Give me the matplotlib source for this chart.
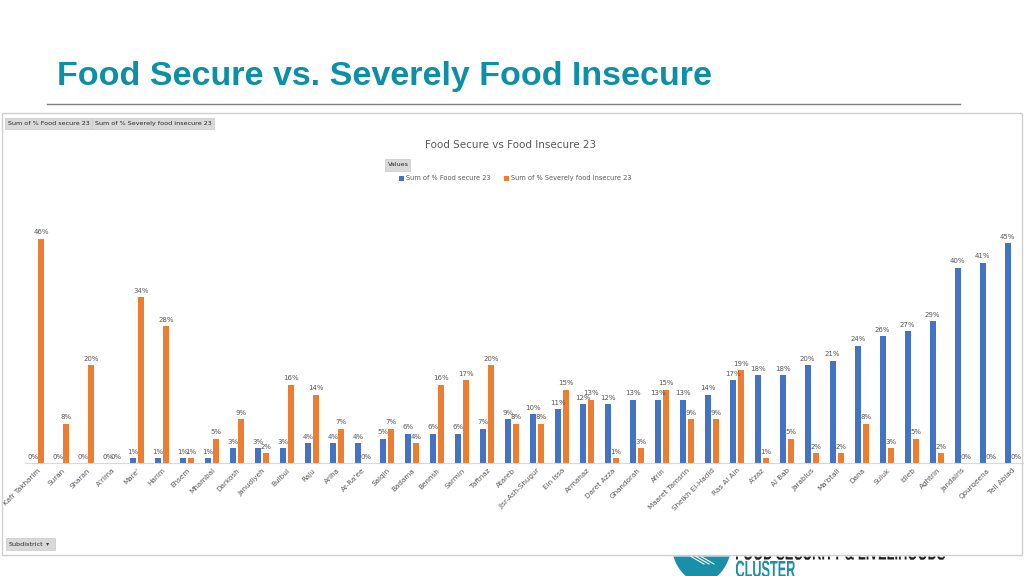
import matplotlib
matplotlib.use("Agg")
import matplotlib.pyplot as plt
from matplotlib.patches import Rectangle, PathPatch, Polygon
from matplotlib.path import Path
from matplotlib.textpath import TextPath
from matplotlib.font_manager import FontProperties
from matplotlib.transforms import Affine2D, IdentityTransform
import numpy as np

subdistricts = ["Kafr Takharim", "Suran", "Sharan", "A'rima", "Mare'", "Harim", "Ehsem",
                "Mhambal", "Darkosh", "Janudiyeh", "Bulbul", "Raju", "Ariha", "Ar-Ra'ee",
                "Salqin", "Badama", "Bennsh", "Sarmin", "Taftnaz", "Atareb", "Jisr-Ash-Shugur",
                "Ein Issa", "Armanaz", "Daret Azza", "Ghandorah", "Afrin", "Maaret Tamsrin",
                "Sheikh El-Hadid", "Ras Al Ain", "A'zaz", "Al Bab", "Jarablus", "Ma'btali",
                "Dana", "Suluk", "Idleb", "Aghtrin", "Jandairis", "Qourqeena", "Tell Abiad"]
food_secure = [0, 0, 0, 0, 1, 1, 1, 1, 3, 3, 3, 4, 4, 4, 5, 6, 6, 6, 7, 9, 10, 11, 12, 12,
               13, 13, 13, 14, 17, 18, 18, 20, 21, 24, 26, 27, 29, 40, 41, 45]
severely_insecure = [46, 8, 20, 0, 34, 28, 1, 5, 9, 2, 16, 14, 7, 0, 7, 4, 16, 17, 20, 8, 8,
                     15, 13, 1, 3, 15, 9, 9, 19, 1, 5, 2, 2, 8, 3, 5, 2, 0, 0, 0]

BLUE = "#4472C4"
ORANGE = "#ED7D31"
TEAL = "#0E8FA8"
LOGO = "#1A8FA8"
GREY = "#595959"

W, H = 1024, 576
FRAME_BOTTOM = 556.5
fig = plt.figure(figsize=(W / 100, H / 100), dpi=100)
fig.patch.set_facecolor("white")

def fx(px):
    return px / W

def fy(py):
    return 1 - py / H

def fitted_text(s, x0, x1, y_top, y_base, color):
    """Text path stretched to a box (pixel coords), cut at the chart frame's bottom edge."""
    fp = FontProperties(family="Liberation Sans", weight="bold")
    tp = TextPath((0, 0), s, size=10, prop=fp)
    ext = tp.get_extents()
    cap = TextPath((0, 0), "H", size=10, prop=fp).get_extents()
    sx = (x1 - x0) / ext.width
    sy = (y_base - y_top) / cap.height
    tr = Affine2D().translate(-ext.x0, 0).scale(sx, sy).translate(x0, H - y_base)
    p = tr.transform_path(tp).interpolated(8)
    verts = p.vertices.copy()
    verts[:, 1] = np.minimum(verts[:, 1], H - FRAME_BOTTOM)
    fig.add_artist(PathPatch(Path(verts, p.codes), transform=IdentityTransform(),
                             facecolor=color, edgecolor="none"))

# Header
fig.text(fx(57), fy(85), "Food Secure vs. Severely Food Insecure", color=TEAL,
         fontsize=24.5, fontweight="bold", family="Liberation Sans", va="baseline", ha="left")
fig.add_artist(plt.Line2D([fx(47), fx(960)], [fy(103.5), fy(103.5)], color="#7f7f7f", lw=1))

# Logo bowl (only the part below the chart frame is visible)
t = np.linspace(0, np.pi, 60)
cx, cy, rx, ry = 701.5, 540.0, 30.5, 42.0
bx = cx - rx * np.cos(t)
by = np.maximum(cy + ry * np.sin(t), FRAME_BOTTOM)
fig.add_artist(Polygon(np.column_stack([fx(bx), fy(by)]), closed=True,
                       transform=fig.transFigure, facecolor=LOGO, edgecolor="none"))
for dx in (-12, -7, -2):
    fig.add_artist(plt.Line2D([fx(703 + dx), fx(716 + dx)], [fy(FRAME_BOTTOM), fy(564)],
                              color="white", lw=0.8))
fitted_text("FOOD SECURITY & LIVELIHOODS", 736, 945, 545, 559.5, "#1f1f1f")
fitted_text("CLUSTER", 736, 795, 561, 577, LOGO)

# Chart frame
fig.add_artist(Rectangle((fx(1.5), fy(555)), fx(1020), 442 / H, transform=fig.transFigure,
                         facecolor="none", edgecolor="#d0d0d0", lw=1))

# Axes
ax = fig.add_axes([fx(24.5), fy(463), fx(1000), 244 / H])
x = np.arange(len(subdistricts))
bw = 0.25
off = 0.17
b1 = ax.bar(x - off, food_secure, bw, color=BLUE, label="Sum of % Food secure 23")
b2 = ax.bar(x + off, severely_insecure, bw, color=ORANGE, label="Sum of % Severely food insecure 23")
for bars, vals in ((b1, food_secure), (b2, severely_insecure)):
    for rect, v in zip(bars, vals):
        ax.annotate(f"{v}%", (rect.get_x() + rect.get_width() / 2, v), xytext=(0, 2.5),
                    textcoords="offset points", ha="center", va="bottom",
                    fontsize=5, color=GREY)
ax.set_xlim(-0.5, len(subdistricts) - 0.5)
ax.set_ylim(0, 50)
ax.set_yticks([])
ax.set_xticks(x)
ax.set_xticklabels(subdistricts, rotation=45, ha="right", rotation_mode="anchor",
                   fontsize=5.2, color=GREY)
ax.tick_params(axis="x", length=0, pad=3)
for s in ("top", "right", "left"):
    ax.spines[s].set_visible(False)
ax.spines["bottom"].set_color("#d9d9d9")
ax.patch.set_alpha(0)

# Chart title
fig.text(fx(511), fy(145), "Food Secure vs Food Insecure 23", ha="center", va="center",
         fontsize=7.5, color=GREY)

# Buttons
def button(x0, y0, x1, y1, label, fs=4.6):
    fig.add_artist(Rectangle((fx(x0), fy(y1)), fx(x1 - x0), (y1 - y0) / H,
                             transform=fig.transFigure, facecolor="#d9d9d9",
                             edgecolor="#c8c8c8", lw=0.5))
    fig.text(fx(x0 + 3), fy((y0 + y1) / 2), label, ha="left", va="center",
             fontsize=fs, color="#262626")

button(5, 118, 92, 129, "Sum of % Food secure 23")
button(92, 118, 214, 129, "Sum of % Severely food insecure 23")
button(385, 159, 410, 171, "Values")
button(6, 538, 55, 550, "Subdistrict")
fig.text(fx(48), fy(544), "\u25be", ha="center", va="center", fontsize=4.5, color="#404040")

# Legend
leg_items = [(401, BLUE, "Sum of % Food secure 23"), (506, ORANGE, "Sum of % Severely food insecure 23")]
for lx, c, lab in leg_items:
    fig.add_artist(Rectangle((fx(lx - 2.5), fy(180.5)), fx(5), 5 / H, transform=fig.transFigure,
                             facecolor=c, edgecolor="none"))
    fig.text(fx(lx + 5), fy(178), lab, ha="left", va="center", fontsize=4.8, color=GREY)

fig.savefig("out.png", dpi=100)
